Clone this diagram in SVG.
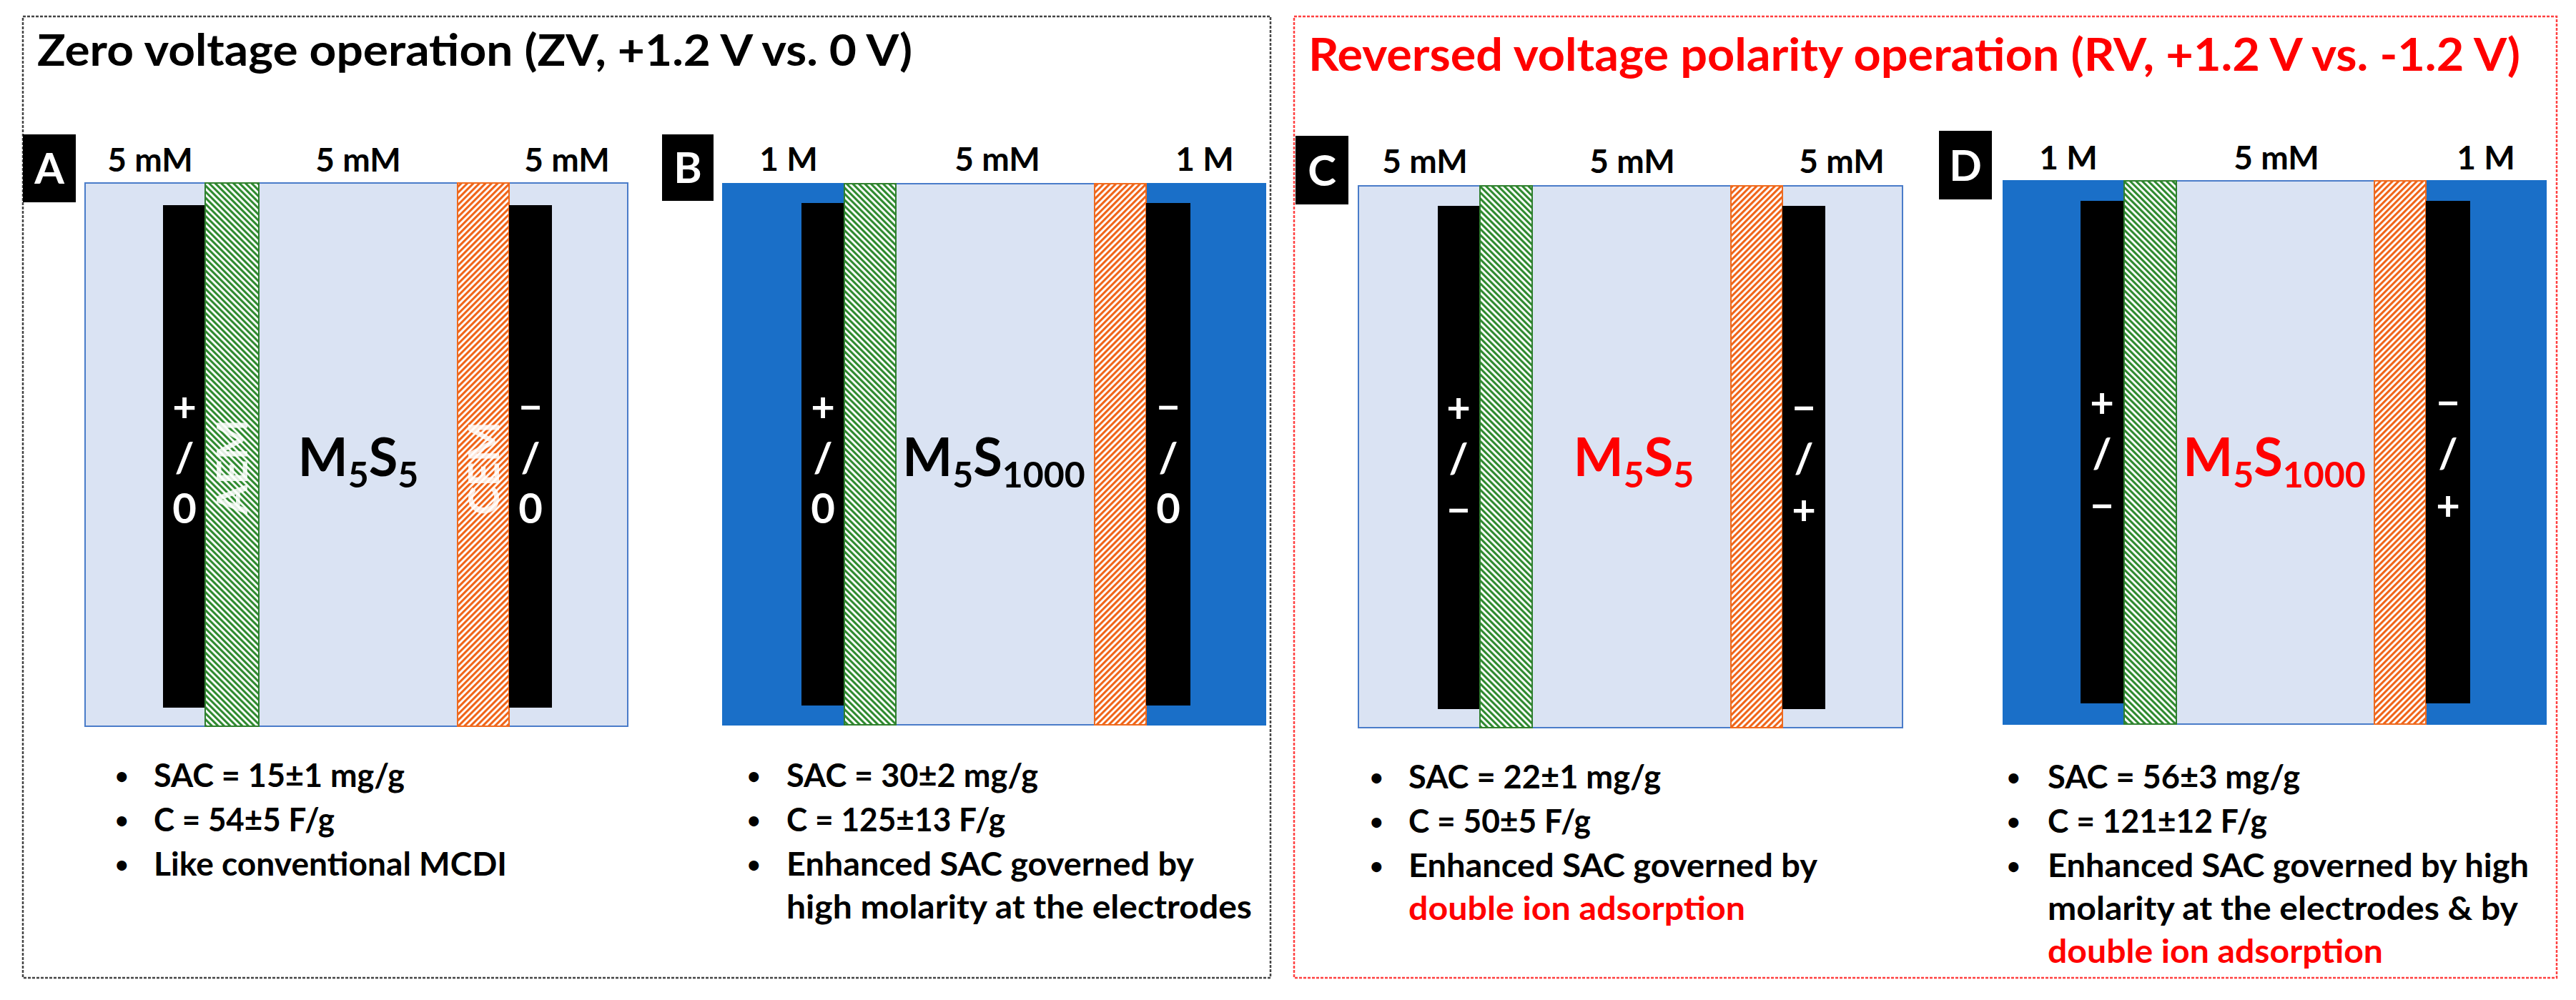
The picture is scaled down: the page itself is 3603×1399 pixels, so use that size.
<svg xmlns="http://www.w3.org/2000/svg" width="3603" height="1399" viewBox="0 0 3603 1399">
<style>
text{font-family:Lato,"Liberation Sans",sans-serif;font-weight:bold}
.cellL{fill:#DAE3F3;stroke:#4A7CC9;stroke-width:2}
.cellD{fill:#1A6FC8;stroke:#1A6FC8;stroke-width:2}
.elec{fill:#000}
.aem{fill:url(#hG);stroke:#2F7F2F;stroke-width:2}
.cem{fill:url(#hO);stroke:#EE6A1E;stroke-width:2}
.tag{fill:#000}
.tagT{fill:#fff;font-size:60px;text-anchor:middle}
.conc{font-size:46px;text-anchor:middle;fill:#000}
.sign{fill:#fff;font-size:58px;text-anchor:middle}
.mem{fill:#fff;fill-opacity:0.85;font-size:60px;text-anchor:middle}
.ms{font-size:74px;text-anchor:middle}
.bul{font-size:46px;fill:#000}
.dot{font-size:32px;fill:#000}
.red{fill:#FF0000}
.frameK{fill:none;stroke:#444;stroke-width:2.5;stroke-dasharray:4 2}
.frameR{fill:none;stroke:#FF4040;stroke-width:2.5;stroke-dasharray:4 2}
</style>
<defs>
<pattern id="hG" width="6" height="6" patternUnits="userSpaceOnUse" patternTransform="rotate(-45)"><rect width="6" height="6" fill="#fff"/><rect width="3.1" height="6" fill="#2F8A2F"/></pattern>
<pattern id="hO" width="6" height="6" patternUnits="userSpaceOnUse" patternTransform="rotate(45)"><rect width="6" height="6" fill="#fff"/><rect width="3.1" height="6" fill="#F06418"/></pattern>
</defs>
<rect width="3603" height="1399" fill="#fff"/>

<g id="frameZV">
<rect class="frameK" x="32" y="23" width="1745" height="1345"/>
<text x="52" y="92" font-size="61" textLength="1224" lengthAdjust="spacingAndGlyphs" fill="#000">Zero voltage operation (ZV, +1.2 V vs. 0 V)</text>
</g>
<g id="frameRV">
<rect class="frameR" x="1810" y="23" width="1766" height="1345"/>
<text x="1830" y="99" font-size="64" textLength="1695" lengthAdjust="spacingAndGlyphs" fill="#FF0000">Reversed voltage polarity operation (RV, +1.2 V vs. -1.2 V)</text>
</g>

<g id="panelA">
<rect class="tag" x="32" y="188" width="74" height="95"/>
<text class="tagT" x="69" y="257">A</text>
<text class="conc" x="210" y="240">5 mM</text>
<text class="conc" x="501" y="240">5 mM</text>
<text class="conc" x="793" y="240">5 mM</text>
<rect class="cellL" x="119" y="256" width="759" height="760"/>
<rect class="elec" x="228" y="287" width="59" height="703"/>
<rect class="aem" x="287" y="256" width="75" height="760"/>
<rect class="cem" x="640" y="256" width="72" height="760"/>
<rect class="elec" x="712" y="287" width="60" height="703"/>
<text class="sign" x="258" y="590">+</text>
<text class="sign" x="258" y="661">/</text>
<text class="sign" x="258" y="732">0</text>
<text class="sign" x="742" y="590">−</text>
<text class="sign" x="742" y="661">/</text>
<text class="sign" x="742" y="732">0</text>
<text class="mem" transform="translate(346,653) rotate(-90)">AEM</text>
<text class="mem" transform="translate(698,655) rotate(-90)">CEM</text>
<text class="ms" x="501" y="666">M<tspan font-size="50" dy="16">5</tspan><tspan dy="-16">S</tspan><tspan font-size="50" dy="16">5</tspan></text>
<text class="dot" x="161" y="1097">•</text><text class="bul" x="215" y="1101" textLength="351" lengthAdjust="spacingAndGlyphs">SAC = 15±1 mg/g</text>
<text class="dot" x="161" y="1159">•</text><text class="bul" x="215" y="1163" textLength="253" lengthAdjust="spacingAndGlyphs">C = 54±5 F/g</text>
<text class="dot" x="161" y="1221">•</text><text class="bul" x="215" y="1225" textLength="494" lengthAdjust="spacingAndGlyphs">Like conventional MCDI</text>
</g>

<g id="panelB">
<rect class="tag" x="926" y="188" width="72" height="93"/>
<text class="tagT" x="962" y="256">B</text>
<text class="conc" x="1103" y="239">1 M</text>
<text class="conc" x="1395" y="239">5 mM</text>
<text class="conc" x="1685" y="239">1 M</text>
<rect class="cellD" x="1011" y="257" width="759" height="757"/>
<rect class="cellL" x="1253" y="257" width="278" height="757"/>
<rect class="elec" x="1121" y="284" width="60" height="703"/>
<rect class="aem" x="1181" y="257" width="72" height="757"/>
<rect class="cem" x="1531" y="257" width="72" height="757"/>
<rect class="elec" x="1603" y="284" width="62" height="703"/>
<text class="sign" x="1151" y="590">+</text>
<text class="sign" x="1151" y="661">/</text>
<text class="sign" x="1151" y="732">0</text>
<text class="sign" x="1634" y="590">−</text>
<text class="sign" x="1634" y="661">/</text>
<text class="sign" x="1634" y="732">0</text>
<text class="ms" x="1390" y="666">M<tspan font-size="50" dy="16">5</tspan><tspan dy="-16">S</tspan><tspan font-size="50" dy="16">1000</tspan></text>
<text class="dot" x="1045" y="1097">•</text><text class="bul" x="1100" y="1101" textLength="352" lengthAdjust="spacingAndGlyphs">SAC = 30±2 mg/g</text>
<text class="dot" x="1045" y="1159">•</text><text class="bul" x="1100" y="1163" textLength="306" lengthAdjust="spacingAndGlyphs">C = 125±13 F/g</text>
<text class="dot" x="1045" y="1221">•</text><text class="bul" x="1100" y="1225" textLength="570" lengthAdjust="spacingAndGlyphs">Enhanced SAC governed by</text>
<text class="bul" x="1100" y="1285" textLength="651" lengthAdjust="spacingAndGlyphs">high molarity at the electrodes</text>
</g>

<g id="panelC">
<rect class="tag" x="1812" y="190" width="74" height="96"/>
<text class="tagT" x="1849" y="260">C</text>
<text class="conc" x="1993" y="242">5 mM</text>
<text class="conc" x="2283" y="242">5 mM</text>
<text class="conc" x="2576" y="242">5 mM</text>
<rect class="cellL" x="1900" y="260" width="761" height="758"/>
<rect class="elec" x="2011" y="288" width="59" height="704"/>
<rect class="aem" x="2070" y="260" width="73" height="758"/>
<rect class="cem" x="2421" y="260" width="72" height="758"/>
<rect class="elec" x="2493" y="288" width="60" height="704"/>
<text class="sign" x="2040" y="591">+</text>
<text class="sign" x="2040" y="662">/</text>
<text class="sign" x="2040" y="734">−</text>
<text class="sign" x="2523" y="591">−</text>
<text class="sign" x="2523" y="662">/</text>
<text class="sign" x="2523" y="734">+</text>
<text class="ms red" x="2285" y="666">M<tspan font-size="50" dy="16">5</tspan><tspan dy="-16">S</tspan><tspan font-size="50" dy="16">5</tspan></text>
<text class="dot" x="1916" y="1099">•</text><text class="bul" x="1970" y="1103" textLength="353" lengthAdjust="spacingAndGlyphs">SAC = 22±1 mg/g</text>
<text class="dot" x="1916" y="1161">•</text><text class="bul" x="1970" y="1165" textLength="255" lengthAdjust="spacingAndGlyphs">C = 50±5 F/g</text>
<text class="dot" x="1916" y="1223">•</text><text class="bul" x="1970" y="1227" textLength="572" lengthAdjust="spacingAndGlyphs">Enhanced SAC governed by</text>
<text class="bul red" x="1970" y="1287" textLength="471" lengthAdjust="spacingAndGlyphs">double ion adsorption</text>
</g>

<g id="panelD">
<rect class="tag" x="2712" y="183" width="74" height="96"/>
<text class="tagT" x="2749" y="253">D</text>
<text class="conc" x="2893" y="237">1 M</text>
<text class="conc" x="3184" y="237">5 mM</text>
<text class="conc" x="3477" y="237">1 M</text>
<rect class="cellD" x="2802" y="253" width="759" height="760"/>
<rect class="cellL" x="3044" y="253" width="277" height="760"/>
<rect class="elec" x="2910" y="281" width="61" height="703"/>
<rect class="aem" x="2971" y="253" width="73" height="760"/>
<rect class="cem" x="3321" y="253" width="72" height="760"/>
<rect class="elec" x="3393" y="281" width="62" height="703"/>
<text class="sign" x="2940" y="584">+</text>
<text class="sign" x="2940" y="655">/</text>
<text class="sign" x="2940" y="728">−</text>
<text class="sign" x="3424" y="584">−</text>
<text class="sign" x="3424" y="655">/</text>
<text class="sign" x="3424" y="728">+</text>
<text class="ms red" x="3181" y="666">M<tspan font-size="50" dy="16">5</tspan><tspan dy="-16">S</tspan><tspan font-size="50" dy="16">1000</tspan></text>
<text class="dot" x="2807" y="1099">•</text><text class="bul" x="2864" y="1103" textLength="353" lengthAdjust="spacingAndGlyphs">SAC = 56±3 mg/g</text>
<text class="dot" x="2807" y="1161">•</text><text class="bul" x="2864" y="1165" textLength="307" lengthAdjust="spacingAndGlyphs">C = 121±12 F/g</text>
<text class="dot" x="2807" y="1223">•</text><text class="bul" x="2864" y="1227" textLength="673" lengthAdjust="spacingAndGlyphs">Enhanced SAC governed by high</text>
<text class="bul" x="2864" y="1287" textLength="658" lengthAdjust="spacingAndGlyphs">molarity at the electrodes &amp; by</text>
<text class="bul red" x="2864" y="1347" textLength="469" lengthAdjust="spacingAndGlyphs">double ion adsorption</text>
</g>

<g id="connectors"/>
</svg>
